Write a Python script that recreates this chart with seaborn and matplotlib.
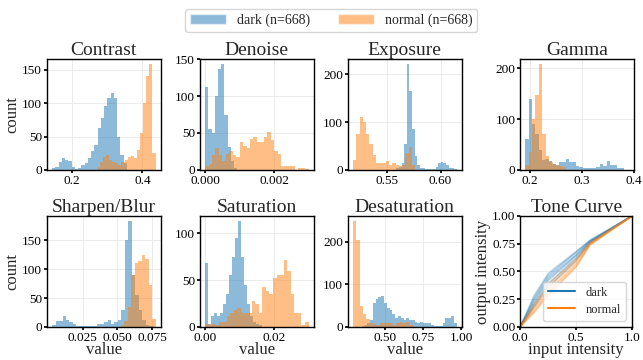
import numpy as np
import pandas as pd
import matplotlib
matplotlib.use("Agg")
import matplotlib.pyplot as plt
import seaborn as sns
from matplotlib.patches import Patch
from matplotlib.lines import Line2D

# Histogram counts; bins run evenly from lo to hi
contrast_dark = [3, 5, 12, 18, 15, 13, 5, 2, 3, 8, 10, 18, 28, 37, 63, 78, 96, 107, 115, 107, 50, 22, 10]
contrast_dark_range = (0.144, 0.356)
contrast_normal = [5, 12, 20, 22, 15, 12, 10, 8, 12, 15, 20, 21, 18, 30, 55, 100, 140, 158, 25]
contrast_normal_range = (0.2704, 0.4376)

denoise_dark = [112, 56, 50, 100, 137, 143, 74, 31, 12, 3]
denoise_dark_range = (0.0, 0.00093)
denoise_normal = [5, 8, 20, 30, 20, 12, 22, 25, 20, 18, 38, 32, 30, 42, 45,
                  38, 38, 45, 52, 40, 25, 22, 5, 5, 5, 5, 0, 2, 2, 1]
denoise_normal_range = (0.0, 0.003)

exposure_dark = [3, 6, 14, 55, 221, 165, 85, 30, 10, 5, 3, 2, 1, 1, 2, 6, 15, 17, 15, 10, 5, 3, 2]
exposure_dark_range = (0.5585, 0.6149)
exposure_normal = [20, 75, 110, 100, 75, 55, 32, 15, 14, 15, 18, 10, 15, 10, 8, 10, 35, 48, 10]
exposure_normal_range = (0.5178, 0.5761)

gamma_dark = [60, 140, 90, 70, 40, 20, 22, 18, 12, 10, 15, 15, 22, 15, 15,
              8, 5, 3, 3, 3, 3, 5, 12, 8, 17, 10, 10, 3, 3]
gamma_dark_range = (0.1916, 0.3801)
gamma_normal = [10, 35, 100, 148, 208, 70, 28, 15, 12, 10, 8, 5]
gamma_normal_range = (0.1916, 0.2708)

sharpen_dark = [3, 10, 10, 18, 12, 8, 5, 2, 1, 2, 1, 2, 2, 5, 5, 8, 12, 5, 8, 12,
                30, 150, 183, 90, 56, 30, 12, 3, 1]
sharpen_dark_range = (0.0028, 0.0753)
sharpen_normal = [3, 10, 35, 90, 111, 115, 124, 118, 73, 13]
sharpen_normal_range = (0.0525, 0.0775)

saturation_dark = [68, 3, 12, 15, 12, 15, 25, 35, 55, 75, 95, 113, 75, 45, 25, 12, 5, 3, 2]
saturation_dark_range = (0.0, 0.0165)
saturation_normal = [3, 2, 3, 2, 5, 5, 12, 15, 18, 20, 15, 15, 15, 28, 25, 15, 43, 38, 35,
                     52, 55, 55, 72, 60, 35, 15, 15, 2, 5]
saturation_normal_range = (0.0, 0.0301)

desat_dark = [3, 5, 10, 15, 57, 65, 70, 73, 55, 45, 40, 30, 20, 25, 20, 15, 22, 15, 15,
              12, 10, 12, 10, 8, 10, 5, 3, 2, 2, 10, 20, 20, 25, 10]
desat_dark_range = (0.35, 0.97)
desat_normal = [248, 205, 50, 30, 18, 10, 6, 5, 8, 10, 10, 8, 5, 10, 12, 10, 12, 5]
desat_normal_range = (0.293, 0.685)

# Tone curves (control points)
tone_x = [0.0, 0.125, 0.25, 0.5, 0.625, 1.0]
tone_dark = [
    [0.0, 0.28, 0.48, 0.68, 0.78, 1.0],
    [0.0, 0.26, 0.46, 0.67, 0.78, 1.0],
    [0.0, 0.24, 0.44, 0.65, 0.77, 1.0],
    [0.0, 0.22, 0.42, 0.64, 0.77, 1.0],
    [0.0, 0.20, 0.39, 0.62, 0.76, 1.0],
    [0.0, 0.18, 0.36, 0.60, 0.76, 1.0],
]
tone_normal = [
    [0.0, 0.20, 0.38, 0.61, 0.76, 1.0],
    [0.0, 0.18, 0.35, 0.59, 0.75, 1.0],
    [0.0, 0.16, 0.32, 0.57, 0.75, 1.0],
    [0.0, 0.14, 0.30, 0.55, 0.74, 1.0],
    [0.0, 0.13, 0.28, 0.54, 0.74, 1.0],
]

panels = [
    ("Contrast", contrast_dark, contrast_dark_range, contrast_normal, contrast_normal_range,
     [0.2, 0.4], [0, 50, 100, 150], ["0.2", "0.4"]),
    ("Denoise", denoise_dark, denoise_dark_range, denoise_normal, denoise_normal_range,
     [0.0, 0.002], [0, 50, 100, 150], ["0.000", "0.002"]),
    ("Exposure", exposure_dark, exposure_dark_range, exposure_normal, exposure_normal_range,
     [0.55, 0.60], [0, 100, 200], ["0.55", "0.60"]),
    ("Gamma", gamma_dark, gamma_dark_range, gamma_normal, gamma_normal_range,
     [0.2, 0.3, 0.4], [0, 100, 200], ["0.2", "0.3", "0.4"]),
    ("Sharpen/Blur", sharpen_dark, sharpen_dark_range, sharpen_normal, sharpen_normal_range,
     [0.025, 0.050, 0.075], [0, 50, 100, 150], ["0.025", "0.050", "0.075"]),
    ("Saturation", saturation_dark, saturation_dark_range, saturation_normal, saturation_normal_range,
     [0.0, 0.02], [0, 50, 100], ["0.00", "0.02"]),
    ("Desaturation", desat_dark, desat_dark_range, desat_normal, desat_normal_range,
     [0.5, 0.75, 1.0], [0, 100, 200], ["0.50", "0.75", "1.00"]),
]

DARK = "#1f77b4"
NORMAL = "#ff7f0e"

sns.set_theme(style="whitegrid", rc={
    "axes.edgecolor": "black",
    "axes.linewidth": 1.0,
    "grid.color": "#ebebeb",
    "grid.linewidth": 0.7,
    "xtick.bottom": True,
    "ytick.left": True,
    "xtick.major.size": 2.5,
    "ytick.major.size": 2.5,
    "xtick.color": "black",
    "ytick.color": "black",
})
plt.rcParams["font.family"] = ["Liberation Serif", "DejaVu Serif"]

TICK = 9.5
TITLE = 14
LABEL = 12


def draw_hist(ax, counts, rng, color):
    edges = np.linspace(rng[0], rng[1], len(counts) + 1)
    df = pd.DataFrame({"value": (edges[:-1] + edges[1:]) / 2, "n": counts})
    sns.histplot(data=df, x="value", weights="n", bins=edges.tolist(), color=color,
                 alpha=0.5, linewidth=0, ax=ax)


fig = plt.figure(figsize=(6.43, 3.6), dpi=100)
lefts = [0.073, 0.311, 0.541, 0.809]
bottoms = [0.528, 0.092]
W, H = 0.177, 0.308

for i, (title, d, dr, n, nr, xt, yt, xtl) in enumerate(panels):
    r, c = divmod(i, 4)
    ax = fig.add_axes([lefts[c], bottoms[r], W, H])
    draw_hist(ax, d, dr, DARK)
    draw_hist(ax, n, nr, NORMAL)
    ax.set_xticks(xt)
    ax.set_xticklabels(xtl)
    ax.set_yticks(yt)
    ax.tick_params(labelsize=TICK, pad=1)
    ax.set_title(title, fontsize=TITLE, pad=3)
    ax.set_ylabel("count" if c == 0 else "", fontsize=LABEL, labelpad=1)
    ax.set_xlabel("value" if r == 1 else "", fontsize=LABEL, labelpad=-1)

# Tone curve panel
ax = fig.add_axes([lefts[3], bottoms[1], 0.174, H])
for ys in tone_dark:
    sns.lineplot(x=tone_x, y=ys, color=DARK, alpha=0.35, linewidth=1.2, ax=ax)
for ys in tone_normal:
    sns.lineplot(x=tone_x, y=ys, color=NORMAL, alpha=0.35, linewidth=1.2, ax=ax)
ax.set_xlim(0, 1)
ax.set_ylim(0, 1)
ax.set_xticks([0, 0.5, 1.0])
ax.set_xticklabels(["0.0", "0.5", "1.0"])
ax.set_yticks([0, 0.25, 0.5, 0.75, 1.0])
ax.set_yticklabels(["0.00", "0.25", "0.50", "0.75", "1.00"])
ax.tick_params(labelsize=TICK, pad=1)
ax.set_title("Tone Curve", fontsize=TITLE, pad=3)
ax.set_xlabel("input intensity", fontsize=LABEL, labelpad=-1)
ax.set_ylabel("output intensity", fontsize=LABEL, labelpad=1)
ax.legend(handles=[Line2D([], [], color=DARK, lw=1.5), Line2D([], [], color=NORMAL, lw=1.5)],
          labels=["dark", "normal"], loc="lower right", fontsize=9, frameon=True,
          handlelength=2.2, borderpad=0.4, labelspacing=0.4)

fig.legend(handles=[Patch(facecolor=DARK, alpha=0.5), Patch(facecolor=NORMAL, alpha=0.5)],
           labels=["dark (n=668)", "normal (n=668)"], loc="upper center",
           bbox_to_anchor=(0.515, 0.995), ncol=2, fontsize=10, frameon=True,
           handlelength=2.6, columnspacing=2.0, borderpad=0.35)

fig.savefig("out.png", dpi=100)
